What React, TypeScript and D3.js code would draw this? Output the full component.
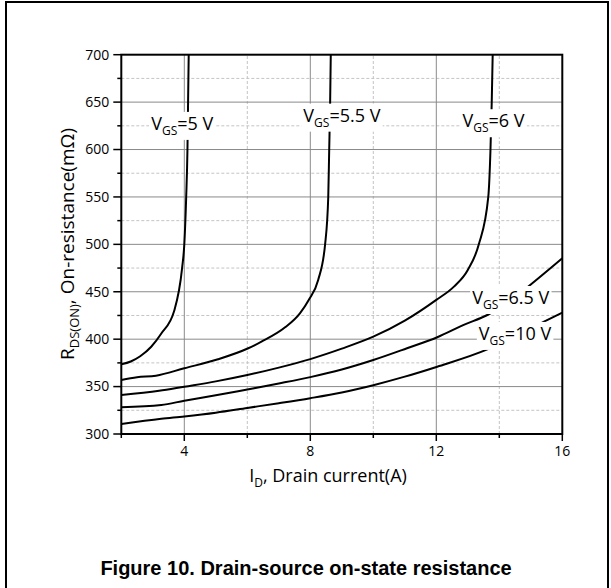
import React, { useEffect, useRef } from "react";
import * as d3 from "d3";

const W = 611;
const H = 588;

// Drain current (A) and on-resistance (mΩ) for each V_GS curve
const vgs5I = [2, 2.3, 2.6, 2.95, 3.27, 3.68, 3.93, 4.0, 4.06, 4.1, 4.12, 4.14];
const vgs5R = [373.5, 376.5, 382, 392, 406, 430, 475, 500, 550, 600, 650, 700];

const vgs55I = [2, 2.5, 3.1, 4, 5.07, 6.03, 6.45, 7.2, 7.67, 7.95, 8.25, 8.47, 8.57, 8.6, 8.63, 8.65];
const vgs55R = [357, 359.8, 361.5, 369.3, 378.8, 390.4, 397.4, 412.5, 427.3, 441.4, 462.4, 500, 550, 600, 650, 700];

const vgs6I = [2, 3.2, 4, 5, 6, 7, 8, 9, 10, 11, 12, 12.56, 13, 13.35, 13.65, 13.72, 13.76, 13.79];
const vgs6R = [341.1, 345.5, 349.9, 355.5, 362.2, 370, 379, 390, 402.6, 419.5, 441.4, 455.4, 473, 500, 550, 600, 650, 700];

const vgs65I = [2, 3.27, 4, 5, 6, 7, 8, 9, 10, 11.07, 12.03, 12.87, 13.62, 14.3, 14.94, 16];
const vgs65R = [328.2, 330.6, 335.1, 340.8, 347, 353.3, 360, 368, 378, 390.4, 402, 415, 425.5, 439, 456, 485.3];

const vgs10I = [2, 3.27, 4, 5, 6, 7, 8, 9, 10, 11, 12.03, 13.62, 14.5, 15.42, 16];
const vgs10R = [310.5, 316, 318.5, 322.5, 327.5, 332.5, 337.8, 343.8, 351.5, 360.5, 371, 389.2, 403, 418.5, 428];

// Curve labels (text after the "V_GS" part) and their anchor in data units
const labelTexts = ["=5 V", "=5.5 V", "=6 V", "=6.5 V", "=10 V"];
const labelI = [2.95, 7.78, 12.83, 13.14, 13.35];
const labelR = [620.7, 629.4, 623.5, 437.1, 399.2];

// Axes
const xMajorTicks = [4, 8, 12, 16];
const xMinorTicks = [2, 6, 10, 14];
const yMajorTicks = [300, 350, 400, 450, 500, 550, 600, 650, 700];
const yMinorTicks = [325, 375, 425, 475, 525, 575, 625, 675];
const xGridMajor = [4, 8, 12];
const xGridMinor = [6, 10, 14];
const yGridMajor = [350, 400, 450, 500, 550, 600, 650];
const yGridMinor = [325, 375, 425, 475, 525, 575, 625, 675];

const titleText = "Figure 10. Drain-source on-state resistance";

const LABEL_FONT = "'Open Sans', 'DejaVu Sans', sans-serif";

export default function App() {
  const ref = useRef<SVGSVGElement>(null);

  useEffect(() => {
    const svg = d3.select(ref.current);
    svg.selectAll("*").remove();

    const x = d3.scaleLinear().domain([2, 16]).range([121.3, 562.3]);
    const y = d3.scaleLinear().domain([300, 700]).range([434, 54.7]);
    const [x0, x1] = x.range();
    const [y0, y1] = y.range();

    svg.append("rect").attr("width", W).attr("height", H).attr("fill", "#fff");

    // outer frame
    svg
      .append("rect")
      .attr("x", 6)
      .attr("y", 2)
      .attr("width", 602)
      .attr("height", 660)
      .attr("fill", "none")
      .attr("stroke", "#000")
      .attr("stroke-width", 2);

    const defs = svg.append("defs");
    defs
      .append("clipPath")
      .attr("id", "plotclip")
      .append("rect")
      .attr("x", x0)
      .attr("y", y1)
      .attr("width", x1 - x0)
      .attr("height", y0 - y1);

    // grid
    const grid = svg.append("g");
    grid
      .selectAll("line.vmin")
      .data(xGridMinor)
      .join("line")
      .attr("x1", (d) => x(d))
      .attr("x2", (d) => x(d))
      .attr("y1", y0)
      .attr("y2", y1)
      .attr("stroke", "#c4c4c4")
      .attr("stroke-width", 1)
      .attr("stroke-dasharray", "3,2");
    grid
      .selectAll("line.hmin")
      .data(yGridMinor)
      .join("line")
      .attr("x1", x0)
      .attr("x2", x1)
      .attr("y1", (d) => y(d))
      .attr("y2", (d) => y(d))
      .attr("stroke", "#c4c4c4")
      .attr("stroke-width", 1)
      .attr("stroke-dasharray", "3,2");
    grid
      .selectAll("line.vmaj")
      .data(xGridMajor)
      .join("line")
      .attr("x1", (d) => x(d))
      .attr("x2", (d) => x(d))
      .attr("y1", y0)
      .attr("y2", y1)
      .attr("stroke", "#8a8a8a")
      .attr("stroke-width", 1);
    grid
      .selectAll("line.hmaj")
      .data(yGridMajor)
      .join("line")
      .attr("x1", x0)
      .attr("x2", x1)
      .attr("y1", (d) => y(d))
      .attr("y2", (d) => y(d))
      .attr("stroke", "#8a8a8a")
      .attr("stroke-width", 1);

    // curves
    const series = [
      { I: vgs5I, R: vgs5R },
      { I: vgs55I, R: vgs55R },
      { I: vgs6I, R: vgs6R },
      { I: vgs65I, R: vgs65R },
      { I: vgs10I, R: vgs10R },
    ];
    const line = d3
      .line<[number, number]>()
      .x((d) => x(d[0]))
      .y((d) => y(d[1]))
      .curve(d3.curveMonotoneX);
    const curves = svg.append("g").attr("clip-path", "url(#plotclip)");
    series.forEach((s) => {
      const pts: [number, number][] = s.I.map((v, i) => [v, s.R[i]]);
      curves
        .append("path")
        .attr("d", line(pts) as string)
        .attr("fill", "none")
        .attr("stroke", "#000")
        .attr("stroke-width", 2)
        .attr("stroke-linejoin", "round");
    });

    // curve labels with white boxes
    const labG = svg.append("g");
    labelTexts.forEach((t, i) => {
      const grp = labG.append("g");
      const rect = grp.append("rect").attr("fill", "#fff");
      const txt = grp
        .append("text")
        .attr("x", x(labelI[i]))
        .attr("y", y(labelR[i]))
        .attr("font-family", LABEL_FONT)
        .attr("font-size", 18)
        .attr("fill", "#000");
      txt.append("tspan").text("V");
      txt.append("tspan").attr("font-size", 12).attr("dy", 5).text("GS");
      txt.append("tspan").attr("dy", -5).text(t);
      const bb = (txt.node() as SVGTextElement).getBBox();
      rect
        .attr("x", bb.x - 2)
        .attr("y", bb.y + 1)
        .attr("width", bb.width + 4)
        .attr("height", bb.height);
    });

    // axes lines (frame)
    svg
      .append("rect")
      .attr("x", x0)
      .attr("y", y1)
      .attr("width", x1 - x0)
      .attr("height", y0 - y1)
      .attr("fill", "none")
      .attr("stroke", "#000")
      .attr("stroke-width", 2);

    // x ticks
    const xt = svg.append("g");
    xt.selectAll("line.maj")
      .data(xMajorTicks)
      .join("line")
      .attr("x1", (d) => x(d))
      .attr("x2", (d) => x(d))
      .attr("y1", y0)
      .attr("y2", y0 + 7)
      .attr("stroke", "#000")
      .attr("stroke-width", 1.5);
    xt.selectAll("line.min")
      .data(xMinorTicks)
      .join("line")
      .attr("x1", (d) => x(d))
      .attr("x2", (d) => x(d))
      .attr("y1", y0)
      .attr("y2", y0 + 4)
      .attr("stroke", "#000")
      .attr("stroke-width", 1.5);
    xt.selectAll("text")
      .data(xMajorTicks)
      .join("text")
      .attr("x", (d) => x(d))
      .attr("y", y0 + 22)
      .attr("text-anchor", "middle")
      .attr("font-family", LABEL_FONT)
      .attr("font-size", 14)
      .text((d) => String(d));

    // y ticks
    const yt = svg.append("g");
    yt.selectAll("line.maj")
      .data(yMajorTicks)
      .join("line")
      .attr("x1", x0 - 8)
      .attr("x2", x0)
      .attr("y1", (d) => y(d))
      .attr("y2", (d) => y(d))
      .attr("stroke", "#000")
      .attr("stroke-width", 1.5);
    yt.selectAll("line.min")
      .data(yMinorTicks)
      .join("line")
      .attr("x1", x0 - 4)
      .attr("x2", x0)
      .attr("y1", (d) => y(d))
      .attr("y2", (d) => y(d))
      .attr("stroke", "#000")
      .attr("stroke-width", 1.5);
    yt.selectAll("text")
      .data(yMajorTicks)
      .join("text")
      .attr("x", x0 - 12)
      .attr("y", (d) => y(d))
      .attr("dy", "0.35em")
      .attr("text-anchor", "end")
      .attr("font-family", LABEL_FONT)
      .attr("font-size", 14)
      .text((d) => String(d));

    // x axis title
    const xTitle = svg
      .append("text")
      .attr("x", 328)
      .attr("y", 482)
      .attr("text-anchor", "middle")
      .attr("font-family", LABEL_FONT)
      .attr("font-size", 18);
    xTitle.append("tspan").text("I");
    xTitle.append("tspan").attr("font-size", 12).attr("dy", 5).text("D");
    xTitle.append("tspan").attr("dy", -5).text(", Drain current(A)");

    // y axis title
    const yTitle = svg
      .append("text")
      .attr("transform", "translate(74,244) rotate(-90)")
      .attr("text-anchor", "middle")
      .attr("font-family", LABEL_FONT)
      .attr("font-size", 19);
    yTitle.append("tspan").text("R");
    yTitle.append("tspan").attr("font-size", 13).attr("dy", 5).text("DS(ON)");
    yTitle.append("tspan").attr("dy", -5).text(", On-resistance(mΩ)");

    // figure title
    svg
      .append("text")
      .attr("x", 306)
      .attr("y", 575)
      .attr("text-anchor", "middle")
      .attr("font-family", "'Liberation Sans', Arial, sans-serif")
      .attr("font-weight", "bold")
      .attr("font-size", 20)
      .text(titleText);
  }, []);

  return (
    <svg
      ref={ref}
      width={W}
      height={H}
      style={{ position: "absolute", left: 0, top: 0, display: "block" }}
    />
  );
}
